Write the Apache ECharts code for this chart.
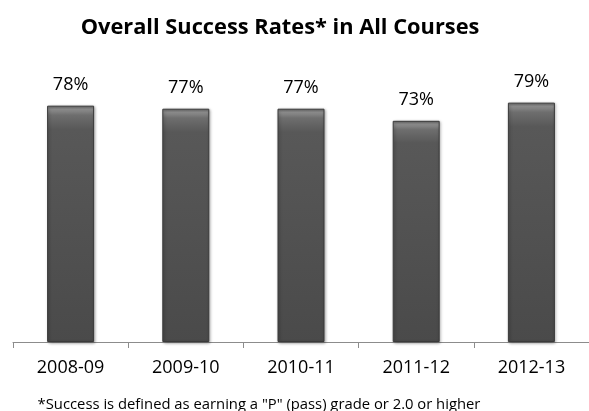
<!DOCTYPE html>
<html><head><meta charset="utf-8">
<script src="https://cdn.jsdelivr.net/npm/echarts@6/dist/echarts.min.js"></script>
<style>html,body{margin:0;padding:0;background:#fff}#c{width:589px;height:411px}</style>
</head><body><div id="c"></div>
<script>
const categories = ['2008-09','2009-10','2010-11','2011-12','2012-13'];
const successRates = [78, 77, 77, 73, 79];
const titleText = 'Overall Success Rates* in All Courses';
const footnoteText = '*Success is defined as earning a "P" (pass) grade or 2.0 or higher';

const chart = echarts.init(document.getElementById('c'));
const barColor = new echarts.graphic.LinearGradient(0,0,0,1,[
  {offset:0, color:'#6a6a6a'},
  {offset:0.015, color:'#8e8e8e'},
  {offset:0.04, color:'#6e6e6e'},
  {offset:0.1, color:'#585858'},
  {offset:1, color:'#4a4a4a'}
]);
chart.setOption({
  animation:false,
  title:[{text:titleText,left:275,top:12,textAlign:'center',
    textStyle:{fontFamily:'Open Sans',fontWeight:'bold',fontSize:21.8,color:'#000'}},
    {text:footnoteText,left:254,top:392,textAlign:'center',
    textStyle:{fontFamily:'Open Sans',fontWeight:'normal',fontSize:14.8,color:'#000'}}],
  grid:{left:13,right:-2.5,top:39,bottom:69,containLabel:false},
  xAxis:{type:'category',data:categories,
    axisLine:{lineStyle:{color:'#8c8c8c',width:1}},
    axisTick:{show:true,length:6,lineStyle:{color:'#8c8c8c'}},
    axisLabel:{fontFamily:'Open Sans',fontSize:18,color:'#000',margin:17}},
  yAxis:{type:'value',min:0,max:100,show:false,splitLine:{show:false}},
  series:[{type:'bar',data:successRates,barWidth:47,
    itemStyle:{color:barColor,borderColor:'#3a3a3a',borderWidth:1,
      shadowColor:'rgba(0,0,0,0.35)',shadowBlur:3,shadowOffsetX:1,shadowOffsetY:1},
    label:{show:true,position:'top',distance:12,formatter:'{c}%',
      fontFamily:'Open Sans',fontSize:18,color:'#000'}}]
});
</script></body></html>
